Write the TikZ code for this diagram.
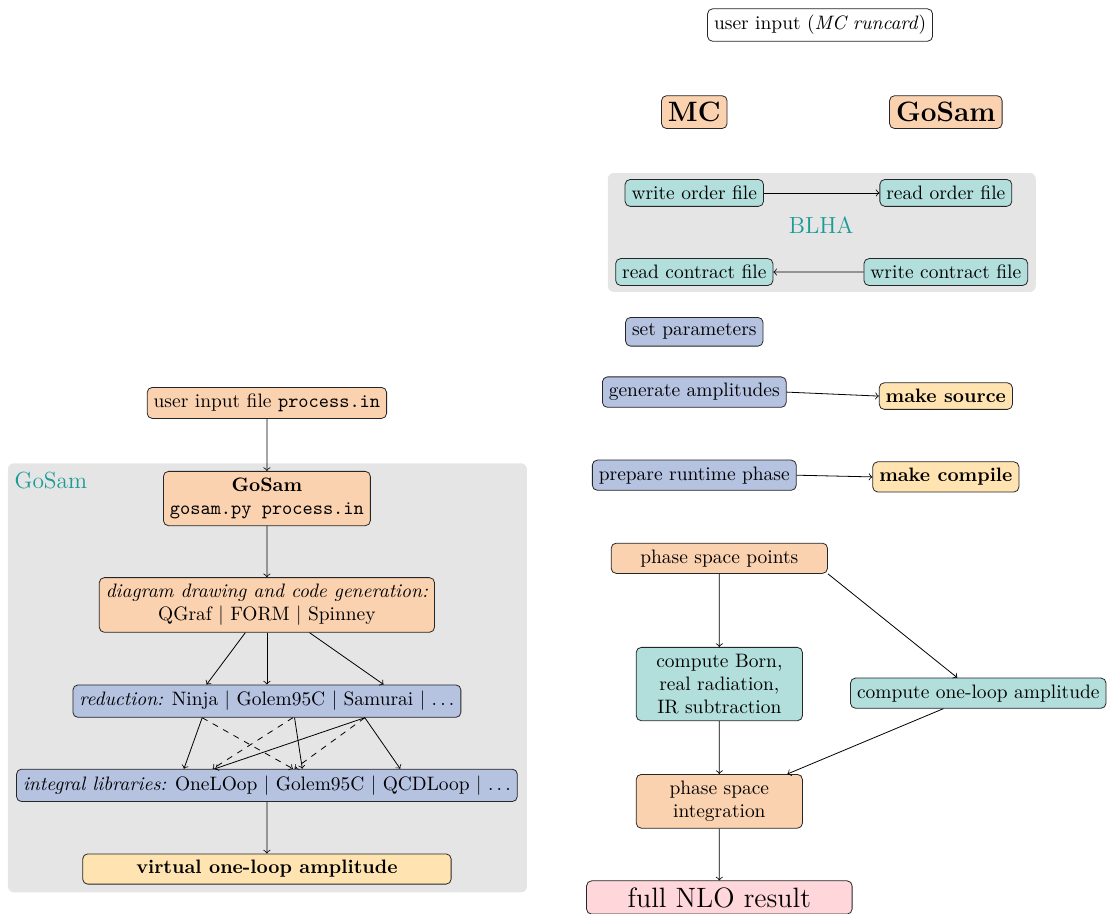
\documentclass[tikz,border=0pt]{standalone}
\usepackage{amsmath}
\usepackage{xcolor}
\usepackage{tikz}
\usetikzlibrary{positioning}
\usetikzlibrary{calc}

\definecolor{boxorange}{RGB}{250,210,176}
\definecolor{boxteal}{RGB}{178,223,220}
\definecolor{boxblue}{RGB}{181,195,225}
\definecolor{boxyellow}{RGB}{255,228,178}
\definecolor{boxpink}{RGB}{255,214,217}
\definecolor{labelteal}{RGB}{26,155,150}

\begin{document}
\begin{tikzpicture}[x=1.0288cm,y=1.0288cm,scale=0.972,transform shape,
    box/.style={draw=black!85,rounded corners=2.5pt},
    orangebox/.style={box,fill=boxorange},
    tealbox/.style={box,fill=boxteal},
    bluebox/.style={box,fill=boxblue},
    yellowbox/.style={box,fill=boxyellow,font=\bfseries},
    pinkbox/.style={box,fill=boxpink},
    header/.style={orangebox,font=\Large\bfseries},
    area/.style={fill=gray!20,rounded corners=3pt},
    arealabel/.style={text=labelteal,font=\large,inner sep=0pt}
]
\useasboundingbox (0,0) rectangle (19.54,-16.06);

% standalone GoSam
\fill[area] (0.14,-8.14) rectangle (9.26,-15.68);
\node[arealabel,anchor=west] (gslabel) at (0.25,-8.44) {GoSam};

\node[orangebox] (userin) at (4.69,-7.08) {user input file \texttt{process.in}};
\node[orangebox,align=center] (gsrun) at (4.69,-8.76) {\textbf{GoSam}\\\texttt{gosam.py process.in}};
\node[orangebox,align=center] (diag) at (4.69,-10.63) {\textit{diagram drawing and code generation:}\\QGraf $|$ FORM $|$ Spinney};
\node[bluebox] (red) at (4.69,-12.32) {\textit{reduction:} Ninja $|$ Golem95C $|$ Samurai $|$ $\ldots$};
\node[bluebox] (intlib) at (4.69,-13.80) {\textit{integral libraries:} OneLOop $|$ Golem95C $|$ QCDLoop $|$ $\ldots$};
\node[yellowbox,minimum width=6.66cm] (virt) at (4.69,-15.27) {virtual one-loop amplitude};

\draw[->] (userin) -- (gsrun);
\draw[->] (gsrun) -- (diag);
\draw[->] ([xshift=-0.39cm]diag.south) -- ([xshift=-1.09cm]red.north);
\draw[->] (diag.south) -- (red.north);
\draw[->] ([xshift=0.77cm]diag.south) -- ([xshift=2.11cm]red.north);

\draw[->] ([xshift=-1.17cm]red.south) -- ([xshift=-1.50cm]intlib.north);
\draw[->,dashed] ([xshift=-1.17cm]red.south) -- ([xshift=0.47cm]intlib.north);
\draw[->,dashed] ([xshift=0.47cm]red.south) -- ([xshift=-0.98cm]intlib.north);
\draw[->] ([xshift=0.50cm]red.south) -- ([xshift=0.64cm]intlib.north);
\draw[->] ([xshift=1.77cm]red.south) -- ([xshift=-0.94cm]intlib.north);
\draw[->,dashed] ([xshift=1.77cm]red.south) -- ([xshift=0.50cm]intlib.north);
\draw[->] ([xshift=1.77cm]red.south) -- ([xshift=2.41cm]intlib.north);
\draw[->] (intlib) -- (virt);

% MC + GoSam via BLHA
\node[box,fill=white] (runcard) at (14.41,-0.44) {user input (\textit{MC runcard})};
\node[header] (mc) at (12.20,-1.97) {MC};
\node[header] (gs) at (16.62,-1.97) {GoSam};

\fill[area] (10.68,-3.04) rectangle (18.20,-5.13);
\node[arealabel] (blha) at (14.43,-3.95) {BLHA};
\node[tealbox] (wof) at (12.20,-3.39) {write order file};
\node[tealbox] (rof) at (16.62,-3.39) {read order file};
\node[tealbox] (rcf) at (12.20,-4.78) {read contract file};
\node[tealbox] (wcf) at (16.62,-4.78) {write contract file};
\draw[->] (wof) -- (rof);
\draw[->] (wcf) -- (rcf);

\node[bluebox] (setpar) at (12.20,-5.83) {set parameters};
\node[bluebox] (genamp) at (12.20,-6.89) {generate amplitudes};
\node[yellowbox] (mksrc) at (16.62,-6.96) {make source};
\node[bluebox] (prep) at (12.20,-8.35) {prepare runtime phase};
\node[yellowbox] (mkcomp) at (16.62,-8.38) {make compile};
\draw[->] (genamp.east) -- (mksrc.west);
\draw[->] (prep.east) -- (mkcomp.west);

\node[orangebox,minimum width=3.91cm] (psp) at (12.64,-9.81) {phase space points};
\node[tealbox,text width=2.77cm,align=center] (born) at (12.64,-12.02) {compute Born,\\real radiation,\\IR subtraction};
\node[tealbox] (oneloop) at (17.19,-12.18) {compute one-loop amplitude};
\node[orangebox,text width=2.77cm,align=center] (psi) at (12.64,-14.08) {phase space\\integration};
\node[pinkbox,minimum width=4.80cm,font=\Large] (nlo) at (12.64,-15.77) {full NLO result};

\draw[->] (psp) -- (born);
\draw[->] (psp.south east) -- ([xshift=-0.38cm]oneloop.north);
\draw[->] (born) -- (psi);
\draw[->] ([xshift=-0.63cm]oneloop.south) -- ([xshift=1.23cm]psi.north);
\draw[->] (psi) -- (nlo);
\end{tikzpicture}
\end{document}
